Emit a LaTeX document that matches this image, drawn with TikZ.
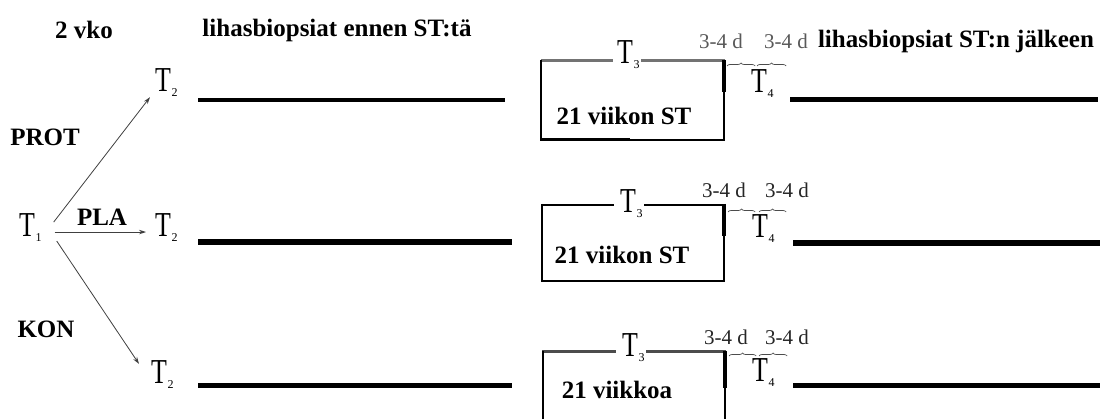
\documentclass[tikz,border=0pt]{standalone}
\usepackage{fontspec}
\usepackage{graphicx}
\setmainfont{Liberation Serif}[BoldFont={Liberation Serif Bold}]
\usetikzlibrary{arrows.meta,decorations.pathreplacing}

% time point: narrow T with a small lowered index
\newcommand{\Tmark}[1]{\scalebox{0.74}[1]{T}\kern0.5pt\raisebox{-5pt}{\fontsize{12}{12}\selectfont #1}}

\begin{document}
\begin{tikzpicture}[x=1pt,y=-1pt,
  lbl/.style={font=\fontsize{25}{28}\selectfont\bfseries, inner sep=0pt},
  tm/.style={font=\fontsize{35}{35}\selectfont, inner sep=0pt, anchor=base west},
  dd/.style={font=\fontsize{21}{21}\selectfont, text=black!85, inner sep=0pt},
  bar/.style={line width=5pt},
  arr/.style={-{Stealth[length=7pt,width=4.5pt]}, line width=0.8pt, black!75},
  brc/.style={decorate, decoration={brace, amplitude=3pt}, line width=0.7pt, black!70}
]
\useasboundingbox (0,0) rectangle (1103,419);
\fill[white] (0,0) rectangle (1103,419);

% headings and group labels
\node[lbl] (vko)  at (84,30)  {2 vko};
\node[lbl] (hpre) at (337,30) {lihasbiopsiat ennen ST:tä};
\node[lbl] (hpost) at (956,41) {lihasbiopsiat ST:n jälkeen};
\node[lbl] (prot) at (45,137) {PROT};
\node[lbl] (kon)  at (46,329) {KON};
\node[lbl] (pla)  at (102,217) {PLA};

% time points before training
\node[tm] (t1)  at (19,237)  {\Tmark{1}};
\node[tm] (t2a) at (155,92)  {\Tmark{2}};
\node[tm] (t2b) at (155,237) {\Tmark{2}};
\node[tm] (t2c) at (151,384) {\Tmark{2}};

% group assignment
\draw[arr] ([shift={(12,-6)}]t1.east) -- ([shift={(-5,0)}]t2a.south west);
\draw[arr] ([shift={(13,4)}]t1.east)  -- ([shift={(-9,4)}]t2b.west);
\draw[arr] ([shift={(15,13)}]t1.east) -- ([shift={(-12,3)}]t2c.north west);

% waiting periods before training
\draw[bar, line width=4pt] (198,100) -- (505,100);
\draw[bar, line width=6pt] (198,242) -- (512,242);
\draw[bar] (198,386) -- (512,386);

% training periods
\node[tm] (t3a) at (617,64)  {\Tmark{3}};
\node[tm] (t3b) at (620,213) {\Tmark{3}};
\node[tm] (t3c) at (622,357) {\Tmark{3}};

% upper box
\draw[line width=3pt, black!55] (541,61) -- (613,61) (641,61) -- (725,61);
\draw[line width=2.5pt] (541,60) -- (541,98);
\draw[line width=1.5pt] (541,98) -- (541,140);
\draw[line width=4pt] (724,60) -- (724,92);
\draw[line width=1.5pt] (724,92) -- (724,140);
\draw[line width=3pt] (540,140) -- (630,140);
\draw[line width=1.5pt] (630,140) -- (724.7,140);
\node[lbl] (st1) at (624,116) {21 viikon ST};

% middle box
\draw[line width=2pt] (541,205) -- (614,205) (644,205) -- (725,205);
\draw[line width=1.8pt] (542,204) -- (542,281);
\draw[line width=3.5pt] (724,204) -- (724,236);
\draw[line width=1.8pt] (724,236) -- (724,281);
\draw[line width=2pt] (541,281) -- (725,281);
\node[lbl] (st2) at (622,255) {21 viikon ST};

% lower box
\draw[line width=3pt, black!70] (542,352) -- (616,352) (646,352) -- (726,352);
\draw[line width=2pt] (543,351) -- (543,419);
\draw[line width=3.5pt] (725,351) -- (725,388);
\draw[line width=2pt] (725,388) -- (725,419);
\node[lbl] (st3) at (617,390) {21 viikkoa};

% rest days and sampling after training
\node[dd, text=black!65] (d1a) at (721,41)  {3-4 d};
\node[dd, text=black!65] (d1b) at (786,41)  {3-4 d};
\node[dd] (d2a) at (724,190) {3-4 d};
\node[dd] (d2b) at (787,190) {3-4 d};
\node[dd] (d3a) at (726,337) {3-4 d};
\node[dd] (d3b) at (787,337) {3-4 d};

\draw[brc] (727,66) -- (755,66);
\draw[brc] (757,66) -- (786,66);
\draw[brc] (728,212) -- (755,212);
\draw[brc] (759,212) -- (786,212);
\draw[brc] (729,356) -- (756,356);
\draw[brc] (759,356) -- (787,356);

\node[tm] (t4a) at (751,93)  {\Tmark{4}};
\node[tm] (t4b) at (752,238) {\Tmark{4}};
\node[tm] (t4c) at (752,382) {\Tmark{4}};

\draw[bar] (790,100) -- (1098,100);
\draw[bar, line width=6.5pt] (793,243) -- (1100,243);
\draw[bar] (793,386) -- (1100,386);
\end{tikzpicture}
\end{document}
